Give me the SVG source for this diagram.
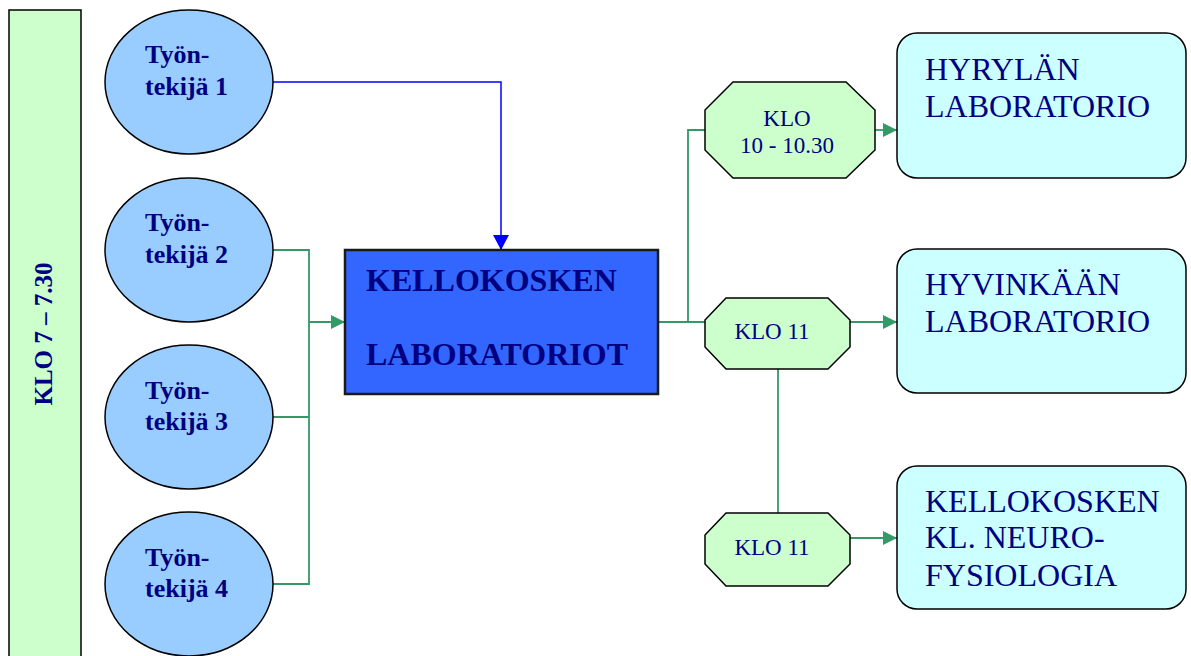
<svg xmlns="http://www.w3.org/2000/svg" width="1191" height="656" viewBox="0 0 1191 656">
<style>
.bar{fill:#CCFFCC;stroke:#000;stroke-width:1.5}
.ell{fill:#99CCFF;stroke:#000;stroke-width:1.5}
.main{fill:#3366FF;stroke:#1a1a1a;stroke-width:2.5}
.oct{fill:#CCFFCC;stroke:#000;stroke-width:1.5}
.lab{fill:#CCFFFF;stroke:#000;stroke-width:1.5}
.tb{font-family:"Liberation Serif","Times New Roman",serif;font-weight:bold;fill:#000080}
.tr{font-family:"Liberation Serif","Times New Roman",serif;fill:#000080}
.g{fill:none;stroke:#339966;stroke-width:1.8}
.b{fill:none;stroke:#0000FF;stroke-width:1.5}
</style>
<defs>
<marker id="ag" viewBox="0 0 14 14" refX="14" refY="7" markerWidth="14" markerHeight="14" markerUnits="userSpaceOnUse" orient="auto">
<path d="M0,0 L14,7 L0,14 Z" fill="#339966"/>
</marker>
<marker id="ab" viewBox="0 0 16 16" refX="15" refY="8" markerWidth="16" markerHeight="16" markerUnits="userSpaceOnUse" orient="auto">
<path d="M0,0 L15,8 L0,16 Z" fill="#0000FF"/>
</marker>
</defs>

<g id="timebar">
<rect class="bar" x="9" y="10" width="72" height="660"/>
<text class="tb" font-size="25" text-anchor="middle" transform="translate(52,334) rotate(-90)">KLO 7 – 7.30</text>
</g>

<g id="connectors">
<polyline class="b" points="273,82 501,82 501,250" marker-end="url(#ab)"/>
<polyline class="g" points="273,250 309,250 309,584 273,584"/>
<line class="g" x1="273" y1="417" x2="309" y2="417"/>
<line class="g" x1="309" y1="322" x2="345" y2="322" marker-end="url(#ag)"/>
<line class="g" x1="658" y1="322" x2="705" y2="322"/>
<polyline class="g" points="688,322 688,130 705,130"/>
<line class="g" x1="875" y1="130" x2="897" y2="130" marker-end="url(#ag)"/>
<line class="g" x1="850" y1="322" x2="897" y2="322" marker-end="url(#ag)"/>
<line class="g" x1="778" y1="369" x2="778" y2="513"/>
<line class="g" x1="850" y1="538" x2="897" y2="538" marker-end="url(#ag)"/>
</g>

<g id="worker1">
<ellipse class="ell" cx="189" cy="82" rx="84" ry="72"/>
<text class="tb" font-size="26" x="145" y="63">Työn-</text>
<text class="tb" font-size="26" x="145" y="95">tekijä 1</text>
</g>
<g id="worker2">
<ellipse class="ell" cx="189" cy="250" rx="84" ry="72"/>
<text class="tb" font-size="26" x="145" y="231">Työn-</text>
<text class="tb" font-size="26" x="145" y="263">tekijä 2</text>
</g>
<g id="worker3">
<ellipse class="ell" cx="189" cy="417" rx="84" ry="72"/>
<text class="tb" font-size="26" x="145" y="399">Työn-</text>
<text class="tb" font-size="26" x="145" y="430">tekijä 3</text>
</g>
<g id="worker4">
<ellipse class="ell" cx="189" cy="584" rx="84" ry="72"/>
<text class="tb" font-size="26" x="145" y="566">Työn-</text>
<text class="tb" font-size="26" x="145" y="597">tekijä 4</text>
</g>

<g id="kellokoski-main">
<rect class="main" x="345" y="250" width="313" height="144"/>
<text class="tb" font-size="32" x="366" y="291">KELLOKOSKEN</text>
<text class="tb" font-size="32" x="366" y="365">LABORATORIOT</text>
</g>

<g id="klo1030">
<polygon class="oct" points="733,82 846,82 875,110 875,150 846,178 733,178 705,150 705,110"/>
<text class="tr" font-size="23" text-anchor="middle" x="787" y="126">KLO</text>
<text class="tr" font-size="23" text-anchor="middle" x="787" y="153">10 - 10.30</text>
</g>
<g id="klo11a">
<polygon class="oct" points="726,298 828,298 850,320 850,347 828,369 726,369 705,347 705,320"/>
<text class="tr" font-size="23" text-anchor="middle" x="772" y="339">KLO 11</text>
</g>
<g id="klo11b">
<polygon class="oct" points="726,513 828,513 850,535 850,564 828,586 726,586 705,564 705,535"/>
<text class="tr" font-size="23" text-anchor="middle" x="772" y="555">KLO 11</text>
</g>

<g id="hyryla">
<rect class="lab" x="897" y="33" width="289" height="145" rx="20"/>
<text class="tr" font-size="32" x="925" y="80">HYRYLÄN</text>
<text class="tr" font-size="32" x="925" y="117">LABORATORIO</text>
</g>
<g id="hyvinkaa">
<rect class="lab" x="897" y="249" width="289" height="144" rx="20"/>
<text class="tr" font-size="32" x="925" y="295">HYVINKÄÄN</text>
<text class="tr" font-size="32" x="925" y="332">LABORATORIO</text>
</g>
<g id="neurofysiologia">
<rect class="lab" x="897" y="466" width="289" height="143" rx="20"/>
<text class="tr" font-size="32" x="925" y="512">KELLOKOSKEN</text>
<text class="tr" font-size="32" x="925" y="548">KL. NEURO-</text>
<text class="tr" font-size="32" x="925" y="586">FYSIOLOGIA</text>
</g>
</svg>
